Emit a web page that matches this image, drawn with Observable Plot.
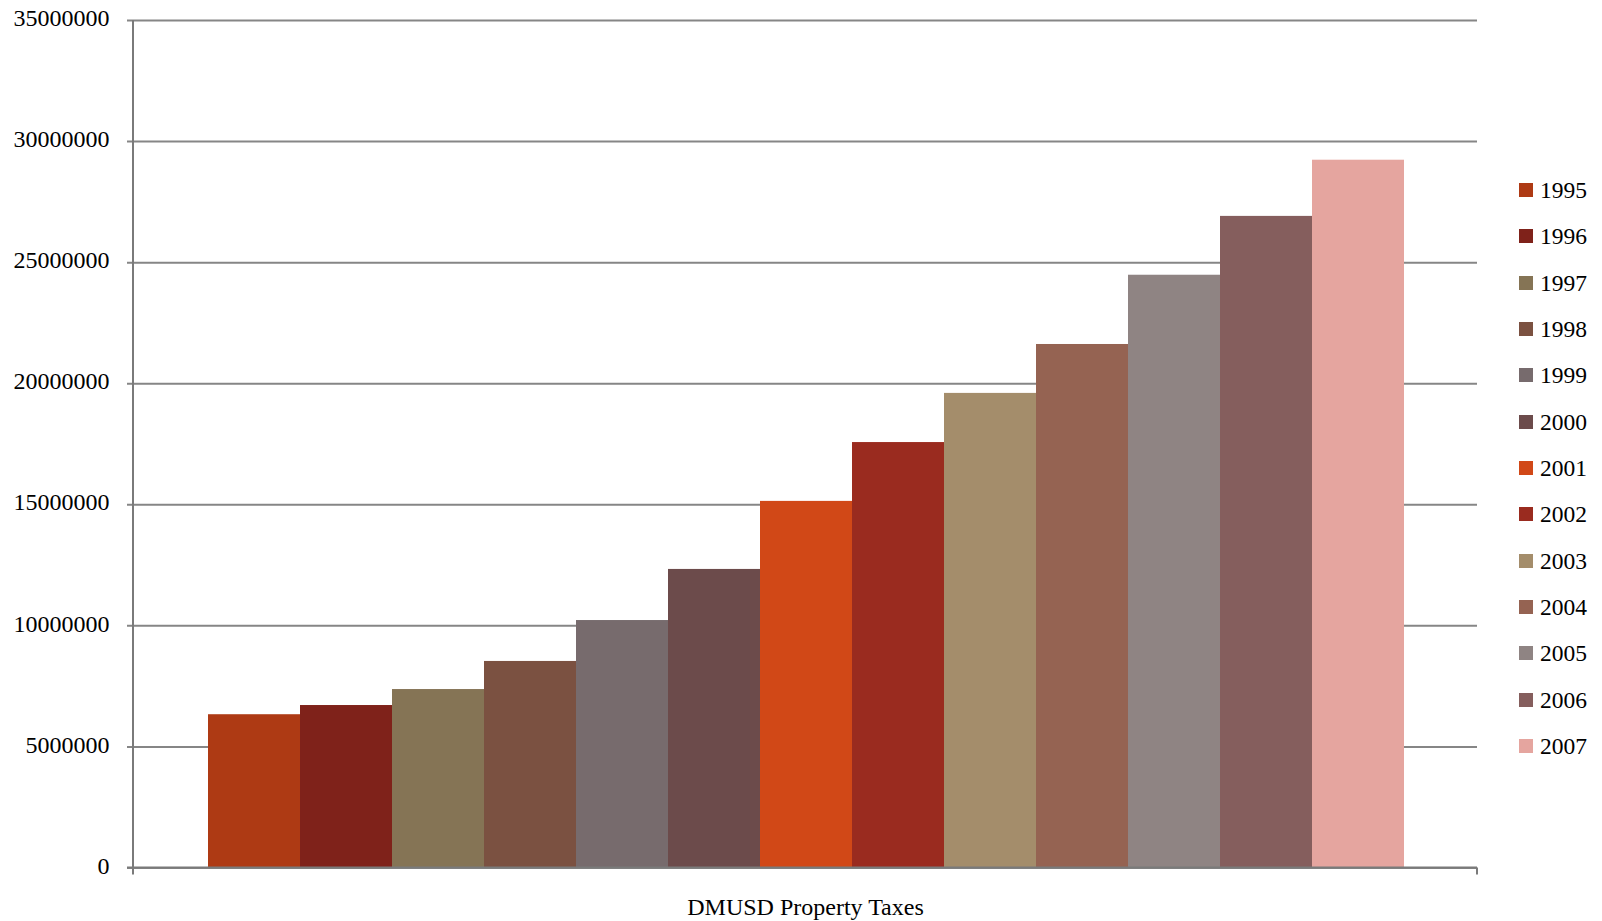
<!DOCTYPE html>
<html><head><meta charset="utf-8">
<script src="https://cdn.jsdelivr.net/npm/d3@7"></script>
<script src="https://cdn.jsdelivr.net/npm/@observablehq/plot@0.6"></script>
<style>
body{margin:0;background:#fff;}
#wrap{position:relative;width:1602px;height:921px;font-family:"Liberation Serif","DejaVu Serif",serif;}
#legend{position:absolute;left:1519px;top:183px;}
.item{position:absolute;left:0;display:flex;align-items:center;height:14px;white-space:nowrap;}
.sw{width:14px;height:14px;margin-right:7px;flex:none;}
.lab{font-family:"Liberation Serif","DejaVu Serif",serif;font-size:23.5px;color:#000;line-height:14px;}
</style></head><body><div id="wrap"><div id="legend"></div></div>
<script>
const years = ["1995","1996","1997","1998","1999","2000","2001","2002","2003","2004","2005","2006","2007"];
const taxes = [6330000, 6710000, 7370000, 8530000, 10220000, 12330000, 15140000, 17570000, 19600000, 21620000, 24480000, 26910000, 29230000];
const colors = ["#AE3A14","#7F221A","#857455","#7B5141","#776B6D","#6C4B4B","#D14817","#9A2B1F","#A48D6B","#956352","#8F8483","#855E5D","#E5A59F"];
const yTicks = [0, 5000000, 10000000, 15000000, 20000000, 25000000, 30000000, 35000000];
const title = "DMUSD Property Taxes";

const serif = "'Liberation Serif', 'DejaVu Serif', serif";
const data = years.map((y, i) => ({year: y, value: taxes[i]}));

const axisLines = (index, scales, values, dims) => {
  const g = d3.create("svg:g").attr("stroke", "#7a7a7a").attr("stroke-width", 2).attr("fill", "none");
  const x0 = dims.marginLeft, x1 = dims.width - dims.marginRight;
  const y0 = scales.y(0), yTop = scales.y(35000000);
  g.append("line").attr("x1", x0).attr("x2", x0).attr("y1", yTop).attr("y2", y0 + 7);
  g.append("line").attr("x1", x0 - 6).attr("x2", x1).attr("y1", y0).attr("y2", y0);
  g.append("line").attr("x1", x1).attr("x2", x1).attr("y1", y0).attr("y2", y0 + 7);
  return g.node();
};

const chart = Plot.plot({
  width: 1602, height: 921,
  marginLeft: 133, marginRight: 125, marginTop: 20, marginBottom: 53.5,
  style: {fontFamily: serif, fontSize: "24px", background: "white", color: "black"},
  x: {type: "band", domain: years, padding: 0, insetLeft: 70, insetRight: 69, axis: null},
  y: {domain: [0, 35000000]},
  color: {domain: years, range: colors},
  marks: [
    Plot.ruleY(yTicks, {stroke: "#868686", strokeWidth: 2, insetLeft: -6}),
    Plot.barY(data, {x: "year", y: "value", fill: "year"}),
    Plot.axisY(yTicks, {tickSize: 0, tickPadding: 24, tickFormat: d => String(d), fontSize: 24, fontFamily: serif, dy: -2, fill: "black", label: null}),
    axisLines,
    Plot.text([title], {text: d => d, frameAnchor: "bottom", lineAnchor: "middle", dy: 39, fontSize: 24, fontFamily: serif, fill: "black"})
  ]
});
document.getElementById("wrap").prepend(chart);

const legend = document.getElementById("legend");
years.forEach((y, i) => {
  const item = document.createElement("div");
  item.className = "item";
  item.style.top = (i * 46.33) + "px";
  const sw = document.createElement("div");
  sw.className = "sw";
  sw.style.background = colors[i];
  const lab = document.createElement("span");
  lab.className = "lab";
  lab.textContent = y;
  item.appendChild(sw); item.appendChild(lab);
  legend.appendChild(item);
});
</script>
</body></html>
